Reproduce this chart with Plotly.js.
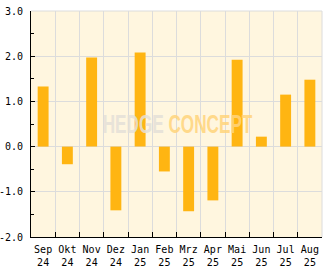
<!DOCTYPE html>
<html>
<head>
<meta charset="utf-8">
<script src="https://cdn.plot.ly/plotly-3.0.1.min.js"></script>
<style>
html,body{margin:0;padding:0;background:#ffffff;}
#chart{width:332px;height:269px;}
</style>
</head>
<body>
<div id="chart"></div>
<script>
var months = ["Sep<br>24","Okt<br>24","Nov<br>24","Dez<br>24","Jan<br>25","Feb<br>25","Mrz<br>25","Apr<br>25","Mai<br>25","Jun<br>25","Jul<br>25","Aug<br>25"];
var returns = [1.33, -0.39, 1.97, -1.41, 2.08, -0.55, -1.43, -1.19, 1.92, 0.22, 1.15, 1.48];
var yTickVals = [-2, -1, 0, 1, 2, 3];
var yTickText = ["-2.0", "-1.0", "0.0", "1.0", "2.0", "3.0"];

var mono = "DejaVu Sans Mono, Liberation Mono, monospace";
var wmFont = "Liberation Sans, Arial, sans-serif";

var trace = {
  type: "bar",
  x: months,
  y: returns,
  width: 0.45,
  marker: {color: "#FFB512", line: {width: 0}},
  hoverinfo: "none"
};

var layout = {
  width: 332,
  height: 269,
  margin: {l: 31, r: 10, t: 11, b: 32, pad: 0},
  paper_bgcolor: "#ffffff",
  plot_bgcolor: "#FFF6DF",
  showlegend: false,
  font: {family: mono, size: 10, color: "#000000"},
  xaxis: {
    type: "category",
    range: [-0.5, 11.5],
    tickson: "boundaries",
    tickangle: 0,
    ticks: "inside",
    ticklen: 5,
    tickcolor: "#000000",
    tickwidth: 1,
    showgrid: true,
    gridcolor: "#DCDCDC",
    gridwidth: 1,
    showline: true,
    linecolor: "#000000",
    linewidth: 1,
    zeroline: false,
    ticklabelstandoff: 3,
    tickfont: {family: mono, size: 10, color: "#000000"},
    fixedrange: true
  },
  yaxis: {
    range: [-2, 3],
    tickvals: yTickVals,
    ticktext: yTickText,
    ticks: "inside",
    ticklen: 4,
    tickcolor: "#000000",
    showgrid: true,
    gridcolor: "#DCDCDC",
    gridwidth: 1,
    showline: true,
    linecolor: "#000000",
    linewidth: 1,
    zeroline: false,
    ticklabelstandoff: 5,
    minor: {dtick: 0.5, ticks: "inside", ticklen: 3, tickcolor: "#000000", showgrid: false},
    tickfont: {family: mono, size: 10, color: "#000000"},
    fixedrange: true
  },
  shapes: [
    {type: "line", xref: "paper", yref: "paper", x0: 0, x1: 1, y0: 1, y1: 1, line: {color: "#DCDCDC", width: 1}, layer: "below"},
    {type: "line", xref: "paper", yref: "paper", x0: 1, x1: 1, y0: 0, y1: 1, line: {color: "#DCDCDC", width: 1}, layer: "below"}
  ],
  annotations: [
    {xref: "paper", yref: "paper", x: 0.502, y: 0.498, xanchor: "center", yanchor: "middle", showarrow: false,
     text: "<span style='color:#E4E0D8'>HEDGE</span> <span style='color:#FFD47C'>CONCEPT</span>",
     font: {family: wmFont, weight: "bold", size: 26, color: "#FFD47C"}, opacity: 0.85}
  ]
};

Plotly.newPlot("chart", [trace], layout, {displayModeBar: false, staticPlot: true}).then(function(gd) {
  var texts = gd.querySelectorAll(".annotation-text");
  texts.forEach(function(t) {
    t.style.transformBox = "fill-box";
    t.style.transformOrigin = "center";
    t.style.transform = "scaleX(0.66)";
  });
});
</script>
</body>
</html>
